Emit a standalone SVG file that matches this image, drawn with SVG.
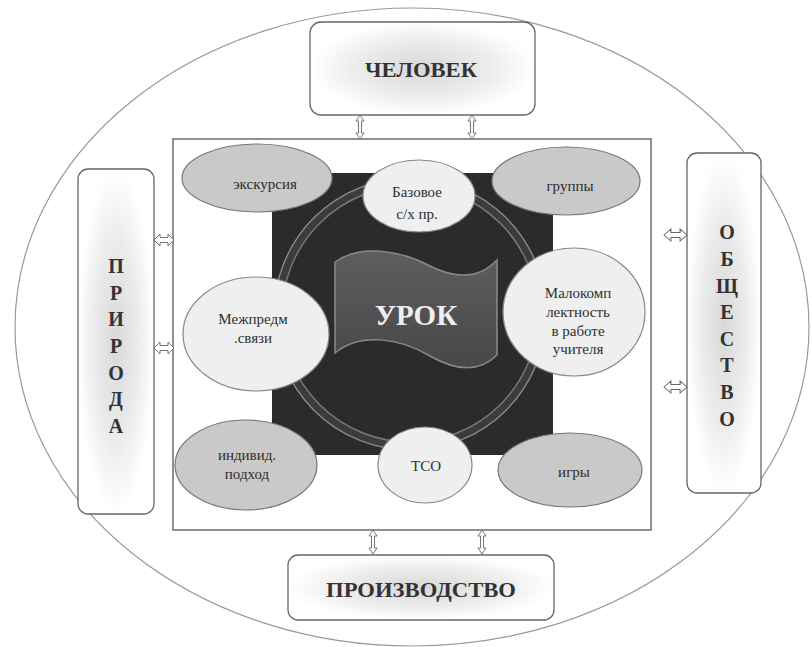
<svg xmlns="http://www.w3.org/2000/svg" width="812" height="647" viewBox="0 0 812 647">
<defs>
<radialGradient id="boxg" cx="0.5" cy="0.5" r="0.5">
<stop offset="0" stop-color="#d8d8d8"/>
<stop offset="0.6" stop-color="#ececec"/>
<stop offset="1" stop-color="#ffffff"/>
</radialGradient>
<linearGradient id="flagg" x1="0" y1="0" x2="0" y2="1">
<stop offset="0" stop-color="#5e5e5e"/>
<stop offset="1" stop-color="#474747"/>
</linearGradient>
<path id="av" d="M0,0 L4,6 L1.5,6 L1.5,18 L4,18 L0,24 L-4,18 L-1.5,18 L-1.5,6 L-4,6 Z"/>
<path id="ah" d="M0,0 L6,-6 L6,-2.5 L14,-2.5 L14,-6 L20,0 L14,6 L14,2.5 L6,2.5 L6,6 Z"/>
</defs>
<style>
.box{fill:url(#boxg);stroke:#666;stroke-width:1.3}
.eg{fill:#c9c9c9;stroke:#777;stroke-width:1.2}
.el{fill:#efefef;stroke:#888;stroke-width:1.2}
.t{font-size:15px;fill:#2e2e2e;text-anchor:middle}
.h{font-weight:bold;fill:#333;text-anchor:middle}
.arr{fill:#fff;stroke:#666;stroke-width:0.9}
</style>
<rect width="812" height="647" fill="#fff"/>
<ellipse id="outer" cx="412" cy="327" rx="397" ry="319" fill="none" stroke="#999" stroke-width="1.2"/>
<rect id="frame" x="173" y="139" width="478" height="391" fill="#fff" stroke="#555" stroke-width="1.3"/>
<g id="urok">
<rect x="272" y="173" width="281" height="282" fill="#2b2b2b"/>
<circle cx="410" cy="314" r="132" fill="none" stroke="#3c3c3c" stroke-width="8"/>
<circle cx="410" cy="314" r="136" fill="none" stroke="#8a8a8a" stroke-width="1.4"/>
<circle cx="410" cy="314" r="128" fill="none" stroke="#7a7a7a" stroke-width="1.4"/>
<path d="M335,262 C360,244 400,250 430,266 C458,280 480,278 497,260 L497,355 C480,372 458,372 430,356 C400,338 360,332 335,353 Z" fill="url(#flagg)" stroke="#8a8a8a" stroke-width="1.5"/>
<text x="416" y="325" class="h" font-family="'Liberation Serif', 'DejaVu Serif', serif" style="font-size:29px;fill:#eeeeee">УРОК</text>
</g>
<g id="chelovek">
<rect class="box" x="310" y="22" width="225" height="93" rx="11"/>
<text x="421" y="77" class="h" font-family="'Liberation Serif', 'DejaVu Serif', serif" style="font-size:20px" textLength="112" lengthAdjust="spacingAndGlyphs">ЧЕЛОВЕК</text>
</g>
<g id="priroda">
<rect class="box" x="78" y="169" width="76" height="345" rx="10"/>
<text class="h" font-family="'Liberation Serif', 'DejaVu Serif', serif" style="font-size:20px" x="116"><tspan x="116" y="273">П</tspan><tspan x="116" y="300">Р</tspan><tspan x="116" y="326">И</tspan><tspan x="116" y="353">Р</tspan><tspan x="116" y="380">О</tspan><tspan x="116" y="406">Д</tspan><tspan x="116" y="433">А</tspan></text>
</g>
<g id="obshchestvo">
<rect class="box" x="687" y="153" width="74" height="340" rx="10"/>
<text class="h" font-family="'Liberation Serif', 'DejaVu Serif', serif" style="font-size:20px" x="727"><tspan x="727" y="239">О</tspan><tspan x="727" y="266">Б</tspan><tspan x="727" y="293">Щ</tspan><tspan x="727" y="319">Е</tspan><tspan x="727" y="346">С</tspan><tspan x="727" y="372">Т</tspan><tspan x="727" y="399">В</tspan><tspan x="727" y="426">О</tspan></text>
</g>
<g id="proizvodstvo">
<rect class="box" x="288" y="555" width="266" height="65" rx="10"/>
<text x="421" y="597" class="h" font-family="'Liberation Serif', 'DejaVu Serif', serif" style="font-size:22px" textLength="190" lengthAdjust="spacingAndGlyphs">ПРОИЗВОДСТВО</text>
</g>
<g id="ekskursiya">
<ellipse class="eg" cx="257" cy="178" rx="75" ry="34"/>
<text class="t" font-family="'Liberation Serif', 'DejaVu Serif', serif" x="265" y="189">экскурсия</text>
</g>
<g id="bazovoe">
<ellipse class="el" cx="419" cy="196" rx="56" ry="36"/>
<text class="t" font-family="'Liberation Serif', 'DejaVu Serif', serif" x="417" y="197">Базовое</text>
<text class="t" font-family="'Liberation Serif', 'DejaVu Serif', serif" x="417" y="219">с/х пр.</text>
</g>
<g id="gruppy">
<ellipse class="eg" cx="566" cy="181" rx="74" ry="34"/>
<text class="t" font-family="'Liberation Serif', 'DejaVu Serif', serif" x="570" y="191">группы</text>
</g>
<g id="mezhpredm">
<ellipse class="el" cx="256" cy="334" rx="73" ry="57"/>
<text class="t" font-family="'Liberation Serif', 'DejaVu Serif', serif" x="253" y="324">Межпредм</text>
<text class="t" font-family="'Liberation Serif', 'DejaVu Serif', serif" x="253" y="343">.связи</text>
</g>
<g id="malokomp">
<ellipse class="el" cx="574" cy="312" rx="71" ry="64"/>
<text class="t" font-family="'Liberation Serif', 'DejaVu Serif', serif" x="578" y="298">Малокомп</text>
<text class="t" font-family="'Liberation Serif', 'DejaVu Serif', serif" x="578" y="317">лектность</text>
<text class="t" font-family="'Liberation Serif', 'DejaVu Serif', serif" x="578" y="336">в работе</text>
<text class="t" font-family="'Liberation Serif', 'DejaVu Serif', serif" x="578" y="354">учителя</text>
</g>
<g id="individ">
<ellipse class="eg" cx="246" cy="465" rx="71" ry="45"/>
<text class="t" font-family="'Liberation Serif', 'DejaVu Serif', serif" x="247" y="460">индивид.</text>
<text class="t" font-family="'Liberation Serif', 'DejaVu Serif', serif" x="247" y="479">подход</text>
</g>
<g id="tso">
<ellipse class="el" cx="425" cy="465" rx="47" ry="38"/>
<text class="t" font-family="'Liberation Serif', 'DejaVu Serif', serif" x="426" y="471">ТСО</text>
</g>
<g id="igry">
<ellipse class="eg" cx="570" cy="470" rx="72" ry="37"/>
<text class="t" font-family="'Liberation Serif', 'DejaVu Serif', serif" x="574" y="477">игры</text>
</g>
<g id="connectors" class="arr">
<use href="#av" x="360" y="115"/>
<use href="#av" x="472" y="115"/>
<use href="#av" x="373" y="530"/>
<use href="#av" x="482" y="530"/>
<use href="#ah" x="154" y="240"/>
<use href="#ah" x="154" y="348"/>
<use href="#ah" transform="translate(664,235) scale(1.15,1)"/>
<use href="#ah" transform="translate(664,387) scale(1.15,1)"/>
</g>
</svg>
